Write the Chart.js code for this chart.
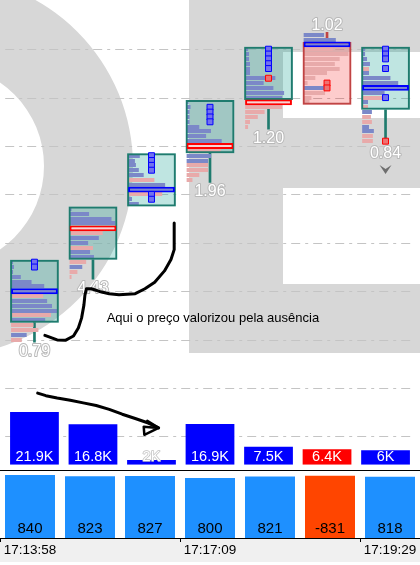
<!DOCTYPE html>
<html>
<head>
<meta charset="utf-8">
<script src="https://cdn.jsdelivr.net/npm/chart.js@4.4.1/dist/chart.umd.min.js"></script>
<style>
  html, body { margin: 0; padding: 0; background: #fff; }
  #wrap { width: 420px; height: 565px; position: relative; overflow: hidden; }
  .pane { position: absolute; left: 0; width: 420px; }
  #mainPane { top: 0; height: 470px; }
  #sep { top: 470px; height: 1px; background: #000; }
  #deltaPane { top: 471px; height: 91px; }
</style>
</head>
<body>
<div id="wrap">
  <div class="pane" id="mainPane"><canvas id="mainChart" width="420" height="470"></canvas></div>
  <div class="pane" id="sep"></div>
  <div class="pane" id="deltaPane"><canvas id="deltaChart" width="420" height="91"></canvas></div>
</div>
<script>
// --- data (price in ticks) ---
const times = ['17:13:58', '', '', '17:17:09', '', '', '17:19:29'];
const opens  = [34, 47, 58, 69, 80, 91, 78];
const closes = [46, 57, 68, 79, 90, 79, 90];
const highs  = [46, 57, 68, 79, 90, 93, 90];
const lows   = [30, 43, 58, 63, 74, 79, 71];
const pocs   = [40, 53, 61, 70, 79, 91, 82];
const pocSide = ['buy', 'sell', 'buy', 'sell', 'sell', 'buy', 'buy'];
const candleNotes = ['0.79', '4.43', null, '1.96', '1.20', '1.02', '0.84'];
const downMarks = [false, false, false, false, false, false, true];
const volumes = [21900, 16800, 2000, 16900, 7500, 6400, 6000];
const deltas = [840, 823, 827, 800, 821, -831, 818];

// volume at price, high -> low. positive = buyers, negative = sellers
const profile = [
  [2, 3, 2, 10, 21, 34, 48, -33, 37, 42, 48, -41, 35, -23, -28, 16, -11],
  [2, 20, 43, 47, -48, -34, 30, 19, -24, 21, 25, -17, 13, -8, -2],
  [12, 7, 8, 11, 16, -27, 38, 48, -35, 4, 11],
  [2, 4, 3, 3, 3, 13, 25, 20, 36, -48, -35, 25, 22, -22, -22, -13, -6],
  [3, 4, 4, 5, 5, 5, 31, 19, 29, 40, 38, -48, -38, -20, -13, -5, -3],
  [21, 33, 48, -30, -46, -37, -32, -37, -24, -12, -4, 21, -22, -8, -6],
  [3, 3, 5, 8, -7, 7, 29, 37, 48, 23, -23, 6, -6, 10, -9, -10, 7, 12, -11, -11]
];
const buyImbalance  = [[46, 45], [], [68, 67, 66, 65, 60, 59], [78, 77, 76, 75], [90, 89, 88, 87, 86], [], [90, 89, 88, 86, 80]];
const sellImbalance = [[], [], [], [], [84], [83, 82], [71]];

// hand drawn notes, in [candle index, price] units
const noteText = 'Aqui o preço valorizou pela ausência';
const notePos = [3.05, 34.4];
const curveNote = [[2.388, 54.1], [2.388, 48.59], [2.333, 46.57], [2.222, 44.2], [2.055, 41.86], [1.888, 40.51],
  [1.722, 39.49], [1.445, 39.29], [1.278, 39.49], [1.112, 39.96], [0.972, 40.51], [0.888, 40.51], [0.862, 39.15],
  [0.845, 37.13], [0.805, 34.44], [0.75, 32.42], [0.667, 30.75], [0.528, 29.86], [0.388, 29.94], [0.25, 30.55], [0.178, 30.87]];
const arrowNote = [[0.055, 18.95], [0.195, 18.42], [0.388, 17.94], [0.612, 17.47], [0.833, 16.93], [1.055, 16.4],
  [1.278, 15.6], [1.5, 14.59], [1.722, 13.7], [1.945, 12.77], [2.122, 11.76]];
const arrowHead = [[1.928, 13.23], [2.122, 11.76], [1.878, 10.34], [1.867, 12.02], [2.122, 11.76]];

const idx = times.map((t, i) => i);
const bull = i => closes[i] >= opens[i];
const maxRow = 48;

const TEAL = '#1f7b6e';
const DARKRED = '#c04444';

function fmtK(v) {
  return (v / 1000).toFixed(1).replace('.0', '') + 'K';
}

// gray letters watermark behind the price pane
function drawWatermark(ctx) {
  ctx.save();
  ctx.fillStyle = '#d7d7d7';
  ctx.beginPath();
  ctx.arc(-57, 166, 190, 0, Math.PI * 2);
  ctx.moveTo(44, 166);
  ctx.arc(-57, 166, 101, 0, Math.PI * 2);
  ctx.fill('evenodd');
  ctx.beginPath();
  ctx.rect(189, 0, 231, 353);
  ctx.rect(283, 52, 137, 66);
  ctx.rect(283, 188, 137, 96);
  ctx.fill('evenodd');
  ctx.restore();
}

const backdrop = {
  id: 'backdrop',
  beforeDatasetsDraw(chart) {
    const ctx = chart.ctx;
    const ys = chart.scales.y;
    drawWatermark(ctx);
    ctx.save();
    ctx.strokeStyle = '#c4c4c4';
    ctx.lineWidth = 1;
    ctx.setLineDash([9, 5, 3, 5]);
    for (let p = 10; p <= 90; p += 10) {
      const y = Math.round(ys.getPixelForValue(p)) + 0.5;
      ctx.beginPath();
      ctx.moveTo(chart.chartArea.left, y);
      ctx.lineTo(chart.chartArea.right, y);
      ctx.stroke();
    }
    ctx.restore();
  }
};

// volume-at-price rows, drawn right after the candle body fill
const footprint = {
  id: 'footprint',
  afterDatasetDraw(chart, args) {
    if (chart.data.datasets[args.index].label !== 'body') return;
    const ctx = chart.ctx;
    const ys = chart.scales.y;
    ctx.save();
    args.meta.data.forEach((bar, i) => {
      const left = bar.x - bar.width / 2 + 1;
      const inner = bar.width - 2;
      profile[i].forEach((v, k) => {
        const yc = ys.getPixelForValue(highs[i] - k);
        ctx.fillStyle = v > 0 ? '#7b88c8' : '#e8aaaa';
        ctx.fillRect(left, Math.round(yc - 2), Math.abs(v) / maxRow * inner, 4);
      });
    });
    ctx.restore();
  }
};

function path(ctx, xs, ys, pts) {
  ctx.beginPath();
  pts.forEach((p, k) => {
    const x = xs.getPixelForValue(p[0]);
    const y = ys.getPixelForValue(p[1]);
    if (k === 0) ctx.moveTo(x, y); else ctx.lineTo(x, y);
  });
  ctx.stroke();
}

const notes = {
  id: 'notes',
  afterDatasetsDraw(chart) {
    const ctx = chart.ctx;
    const xs = chart.scales.x, ys = chart.scales.y, yv = chart.scales.yv;
    ctx.save();
    // candle ratio labels
    ctx.font = '16px "Liberation Sans"';
    ctx.textAlign = 'center';
    ctx.textBaseline = 'alphabetic';
    ctx.lineJoin = 'round';
    idx.forEach(i => {
      const x = xs.getPixelForValue(i);
      if (candleNotes[i]) {
        const y = bull(i) ? ys.getPixelForValue(lows[i] - 0.5) + 14 : ys.getPixelForValue(highs[i] + 0.5) - 2;
        ctx.lineWidth = 2;
        ctx.strokeStyle = '#b8b8b8';
        ctx.strokeText(candleNotes[i], x, y);
        ctx.fillStyle = '#fff';
        ctx.fillText(candleNotes[i], x, y);
      }
      if (downMarks[i]) {
        const t = ys.getPixelForValue(lows[i] - 0.5) + 21.5;
        ctx.fillStyle = '#6e6e6e';
        ctx.beginPath();
        ctx.moveTo(x - 6, t);
        ctx.lineTo(x, t + 4);
        ctx.lineTo(x + 6, t);
        ctx.lineTo(x, t + 9);
        ctx.closePath();
        ctx.fill();
      }
    });
    // volume labels, outlined only where the bar is too short to hold them
    ctx.font = '14.5px "Liberation Sans"';
    const base = yv.getPixelForValue(0);
    idx.forEach(i => {
      const x = xs.getPixelForValue(i);
      const txt = fmtK(volumes[i]);
      if (base - yv.getPixelForValue(volumes[i]) < 14) {
        ctx.lineWidth = 1.5;
        ctx.strokeStyle = '#c0c0c0';
        ctx.strokeText(txt, x, base - 4);
      }
      ctx.fillStyle = '#fff';
      ctx.fillText(txt, x, base - 4);
    });
    // hand drawn notes
    ctx.strokeStyle = '#000';
    ctx.lineWidth = 3;
    ctx.lineCap = 'round';
    path(ctx, xs, ys, curveNote);
    path(ctx, xs, ys, arrowNote);
    ctx.lineWidth = 2.5;
    path(ctx, xs, ys, arrowHead);
    ctx.fillStyle = '#000';
    ctx.font = '13px "Liberation Sans"';
    ctx.textBaseline = 'middle';
    ctx.fillText(noteText, xs.getPixelForValue(notePos[0]), ys.getPixelForValue(notePos[1]));
    ctx.restore();
  }
};

const bodyRange = i => [Math.min(opens[i], closes[i]) - 0.5, Math.max(opens[i], closes[i]) + 0.5];
const candleEdge = idx.map(i => bull(i) ? TEAL : DARKRED);

new Chart(document.getElementById('mainChart'), {
  type: 'bar',
  data: {
    labels: idx,
    datasets: [
      {
        label: 'volume', data: volumes, yAxisID: 'yv', order: 9,
        backgroundColor: idx.map(i => bull(i) ? '#0000ff' : '#ff0000'),
        barPercentage: 50 / 60, categoryPercentage: 1, grouped: false
      },
      {
        label: 'upper wick', order: 8, grouped: false, barThickness: 2, backgroundColor: candleEdge,
        data: idx.map(i => highs[i] > Math.max(opens[i], closes[i]) ? [Math.max(opens[i], closes[i]) + 0.5, highs[i] + 0.5] : null)
      },
      {
        label: 'lower wick', order: 8, grouped: false, barThickness: 2, backgroundColor: candleEdge,
        data: idx.map(i => lows[i] < Math.min(opens[i], closes[i]) ? [lows[i] - 0.5, Math.min(opens[i], closes[i]) - 0.5] : null)
      },
      {
        label: 'body', order: 7, grouped: false, data: idx.map(bodyRange),
        backgroundColor: idx.map(i => bull(i) ? 'rgba(0,150,136,0.25)' : 'rgba(245,0,0,0.2)'),
        borderWidth: 0, barPercentage: 50 / 60, categoryPercentage: 1
      },
      {
        label: 'body edge', order: 6, grouped: false, data: idx.map(bodyRange),
        backgroundColor: 'rgba(0,0,0,0)', borderColor: candleEdge, borderWidth: 2, borderSkipped: false,
        barPercentage: 50 / 60, categoryPercentage: 1
      },
      {
        label: 'poc', order: 5, grouped: false, data: pocs.map(p => [p - 0.6, p + 0.6]),
        backgroundColor: pocSide.map(s => s === 'buy' ? '#7c86d0' : '#f8d4d4'),
        borderColor: pocSide.map(s => s === 'buy' ? '#0000ff' : '#ff0000'),
        borderWidth: 2, borderSkipped: false, barPercentage: 48 / 60, categoryPercentage: 1
      },
      {
        type: 'line', label: 'buy imbalance', order: 4, showLine: false,
        data: buyImbalance.flatMap((lv, i) => lv.map(p => ({ x: i, y: p }))),
        pointStyle: 'rect', pointRadius: 4.2, pointBorderWidth: 1,
        pointBackgroundColor: '#7272ee', pointBorderColor: '#0000ff'
      },
      {
        type: 'line', label: 'sell imbalance', order: 4, showLine: false,
        data: sellImbalance.flatMap((lv, i) => lv.map(p => ({ x: i, y: p }))),
        pointStyle: 'rect', pointRadius: 4.2, pointBorderWidth: 1,
        pointBackgroundColor: '#ee7272', pointBorderColor: '#ff0000'
      }
    ]
  },
  options: {
    responsive: false,
    animation: false,
    events: [],
    layout: { padding: 0 },
    plugins: { legend: { display: false }, tooltip: { enabled: false } },
    scales: {
      x: { type: 'category', display: false, offset: true },
      y: { type: 'linear', display: false, min: 4.14, max: 99.09 },
      yv: { type: 'linear', display: false, min: 0, max: 190600 }
    }
  },
  plugins: [backdrop, footprint, notes]
});

const deltaLabels = {
  id: 'deltaLabels',
  beforeDraw(chart) {
    const ctx = chart.ctx;
    ctx.save();
    ctx.fillStyle = '#f0f0f0';
    ctx.fillRect(0, chart.chartArea.bottom, chart.width, chart.height - chart.chartArea.bottom);
    ctx.restore();
  },
  afterDatasetsDraw(chart) {
    const ctx = chart.ctx;
    const xs = chart.scales.x, ys = chart.scales.y;
    ctx.save();
    ctx.font = '15px "Liberation Sans"';
    ctx.fillStyle = '#000';
    ctx.textAlign = 'center';
    deltas.forEach((d, i) => ctx.fillText(String(d), xs.getPixelForValue(i), ys.getPixelForValue(0) - 5));
    ctx.restore();
  }
};

new Chart(document.getElementById('deltaChart'), {
  type: 'bar',
  data: {
    labels: times,
    datasets: [{
      label: 'delta',
      data: deltas.map(Math.abs),
      backgroundColor: deltas.map(d => d < 0 ? '#ff4500' : '#1e90ff'),
      barPercentage: 50 / 60,
      categoryPercentage: 1
    }]
  },
  options: {
    responsive: false,
    animation: false,
    events: [],
    layout: { padding: 0 },
    plugins: { legend: { display: false }, tooltip: { enabled: false } },
    scales: {
      x: {
        type: 'category', offset: true,
        grid: { drawOnChartArea: false, tickLength: 4, tickColor: c => times[c.index] ? '#000' : 'rgba(0,0,0,0)' },
        border: { color: '#000', width: 1 },
        ticks: { autoSkip: false, maxRotation: 0, padding: 0, color: '#000', font: { family: 'Liberation Sans', size: 13.5 } },
        afterFit: s => { s.height = 24; }
      },
      y: { display: false, min: 0, max: 893 }
    }
  },
  plugins: [deltaLabels]
});
</script>
</body>
</html>
